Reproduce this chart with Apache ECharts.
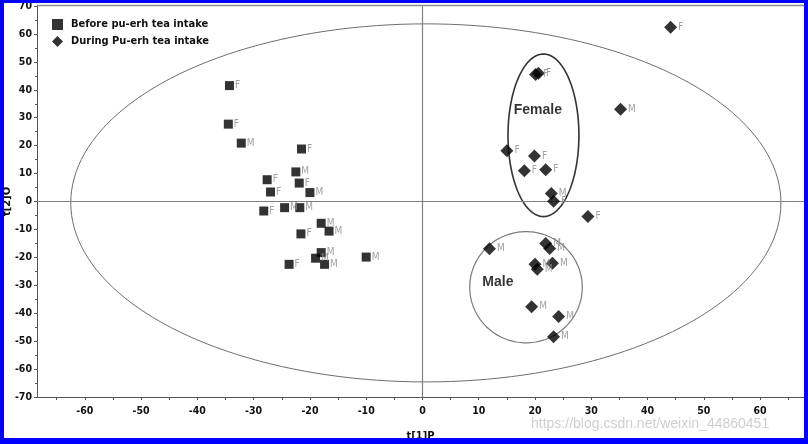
<!DOCTYPE html>
<html>
<head>
<meta charset="utf-8">
<script src="https://cdn.jsdelivr.net/npm/echarts@6/dist/echarts.min.js"></script>
<style>
html,body{margin:0;padding:0;background:#fff;}
#c{width:808px;height:444px;}
</style>
</head>
<body>
<div id="c"></div>
<script>
// ---- data ----
const seriesNames = ['Before pu-erh tea intake', 'During Pu-erh tea intake'];
const sexBefore = ['F','F','M','F','M','F','F','M','F','F','M','M','M','M','F','M','M','M','M','F'];
const xBefore = [-34.3,-34.5,-32.2,-21.5,-22.5,-27.6,-21.9,-20.0,-27.0,-28.2,-24.5,-21.8,-18.0,-16.6,-21.6,-18.0,-19.0,-17.4,-10.0,-23.7];
const yBefore = [41.5,27.7,20.9,18.8,10.6,7.8,6.6,3.2,3.4,-3.4,-2.2,-2.2,-7.8,-10.6,-11.6,-18.3,-20.3,-22.5,-19.9,-22.5];
const sexDuring = ['F','F','M','F','F','F','F','M','F','F','F','M','M','M','M','M','M','M','M','M'];
const xDuring = [20.1,20.6,35.2,15.0,19.9,18.1,21.9,22.9,23.3,29.4,44.1,11.9,21.9,22.6,20.0,20.4,23.1,19.4,24.2,23.3];
const yDuring = [45.5,45.9,33.0,18.2,16.3,11.0,11.4,2.9,0.1,-5.4,62.4,-16.9,-15.0,-16.8,-22.5,-24.3,-22.1,-37.7,-41.2,-48.4];
const xLabelValues = [-60,-50,-40,-30,-20,-10,0,10,20,30,40,50,60];
const xTickValues = [-65,-60,-55,-50,-45,-40,-35,-30,-25,-20,-15,-10,-5,0,5,10,15,20,25,30,35,40,45,50,55,60,65];
// ellipses: [centerX, centerY, radiusX, radiusY]
const ellipseHotelling = [0.6, -0.5, 63.1, 64.1];
const ellipseFemale = [21.5, 23.7, 6.3, 29.1];
const ellipseMale = [18.4, -30.7, 10.0, 19.9];
const groupNames = ['Female', 'Male'];
const groupLabelX = [20.5, 13.4];
const groupLabelY = [32.8, -28.8];

// ---- build ----
const FONT = '"Liberation Sans Narrow", "DejaVu Sans Condensed", Arial, sans-serif';
const before = xBefore.map((x, i) => [x, yBefore[i], sexBefore[i]]);
const during = xDuring.map((x, i) => [x, yDuring[i], sexDuring[i]]);
const ellipses = [ellipseHotelling, ellipseFemale, ellipseMale];
const ellipseStyles = [
  {stroke: '#6e6e6e', lineWidth: 1},
  {stroke: '#333333', lineWidth: 1.6},
  {stroke: '#7a7a7a', lineWidth: 1.2}
];
const groupLabels = groupNames.map((n, i) => [groupLabelX[i], groupLabelY[i], n]);

const pointLabel = {
  show: true,
  position: 'right',
  distance: 1,
  color: '#8a8a8a',
  fontSize: 10,
  fontFamily: FONT,
  formatter: p => p.value[2]
};

const chart = echarts.init(document.getElementById('c'), null, {renderer: 'canvas'});
chart.setOption({
  animation: false,
  backgroundColor: '#ffffff',
  grid: {left: 37, right: 4, top: 6, bottom: 47, containLabel: false, outerBoundsMode: 'none'},
  legend: {
    orient: 'vertical',
    left: 47, top: 14,
    itemWidth: 11, itemHeight: 11, itemGap: 6,
    textStyle: {fontFamily: FONT, fontWeight: 'bold', fontSize: 11, color: '#111', lineHeight: 10, padding: [0,0,0,3]},
    data: seriesNames
  },
  xAxis: {
    type: 'value', min: -68.5, max: 67.8,
    name: 't[1]P', nameLocation: 'middle', nameGap: 34, nameMoveOverlap: false,
    nameTextStyle: {fontFamily: FONT, fontWeight: 'bold', fontSize: 11, color: '#111'},
    axisLine: {show: true, onZero: false, lineStyle: {color: '#555', width: 1}},
    axisTick: {show: true, length: 3, customValues: xTickValues, lineStyle: {color: '#555'}},
    axisLabel: {customValues: xLabelValues, margin: 9, fontFamily: FONT, fontWeight: 'bold', fontSize: 10.5, color: '#111'},
    splitLine: {show: false}
  },
  yAxis: {
    type: 'value', min: -70, max: 70, interval: 10,
    name: 't[2]O', nameLocation: 'middle', nameGap: 24, nameRotate: 90, nameMoveOverlap: false,
    nameTextStyle: {fontFamily: FONT, fontWeight: 'bold', fontSize: 11, color: '#111'},
    axisLine: {show: true, onZero: false, lineStyle: {color: '#555', width: 1}},
    axisTick: {show: true, length: 3, lineStyle: {color: '#555'}},
    minorTick: {show: true, splitNumber: 2, length: 2, lineStyle: {color: '#555'}},
    axisLabel: {margin: 5, fontFamily: FONT, fontWeight: 'bold', fontSize: 10.5, color: '#111'},
    splitLine: {show: false}
  },
  series: [
    {
      type: 'custom',
      silent: true,
      data: ellipses,
      encode: {x: 0, y: 1},
      renderItem: function (params, api) {
        const cx = api.value(0), cy = api.value(1), rx = api.value(2), ry = api.value(3);
        const pts = [];
        for (let i = 0; i <= 180; i++) {
          const t = i / 180 * 2 * Math.PI;
          pts.push(api.coord([cx + rx * Math.cos(t), cy + ry * Math.sin(t)]));
        }
        const st = ellipseStyles[params.dataIndex];
        return {type: 'polyline', shape: {points: pts}, style: {stroke: st.stroke, lineWidth: st.lineWidth, fill: null}};
      },
      markLine: {
        silent: true, symbol: 'none', animation: false,
        label: {show: false},
        lineStyle: {color: '#808080', width: 1.2, type: 'solid'},
        data: [{xAxis: 0}, {yAxis: 0}]
      },
      z: 1
    },
    {
      type: 'scatter',
      silent: true,
      data: groupLabels,
      symbolSize: 0,
      label: {show: true, position: 'inside', formatter: p => p.value[2], fontFamily: 'Liberation Sans, Arial, sans-serif', fontWeight: 'bold', fontSize: 14, color: '#000', textBorderWidth: 0},
      z: 3
    },
    {
      name: seriesNames[0],
      type: 'scatter',
      symbol: 'rect',
      symbolSize: 9,
      itemStyle: {color: '#000'},
      data: before,
      label: pointLabel,
      z: 5
    },
    {
      name: seriesNames[1],
      type: 'scatter',
      symbol: 'diamond',
      symbolSize: 13,
      itemStyle: {color: '#000'},
      data: during,
      label: pointLabel,
      z: 5
    }
  ],
  graphic: [
    {type: 'line', shape: {x1: 37, y1: 5.5, x2: 804, y2: 5.5}, style: {stroke: '#8c8c8c', lineWidth: 1.5}, z: 50, silent: true},
    {type: 'text', left: 531, top: 417, style: {text: 'https://blog.csdn.net/weixin_44860451', fontFamily: 'Liberation Sans, Arial, sans-serif', fontSize: 14, fill: 'rgba(190,190,190,0.75)'}, z: 60, silent: true},
    {type: 'rect', shape: {x: 0, y: 0, width: 808, height: 3}, style: {fill: '#0000ff'}, z: 100, silent: true},
    {type: 'rect', shape: {x: 0, y: 438, width: 808, height: 6}, style: {fill: '#0000ff'}, z: 100, silent: true},
    {type: 'rect', shape: {x: 0, y: 0, width: 4, height: 444}, style: {fill: '#0000ff'}, z: 100, silent: true},
    {type: 'rect', shape: {x: 804, y: 0, width: 4, height: 444}, style: {fill: '#0000ff'}, z: 100, silent: true}
  ]
});
</script>
</body>
</html>
